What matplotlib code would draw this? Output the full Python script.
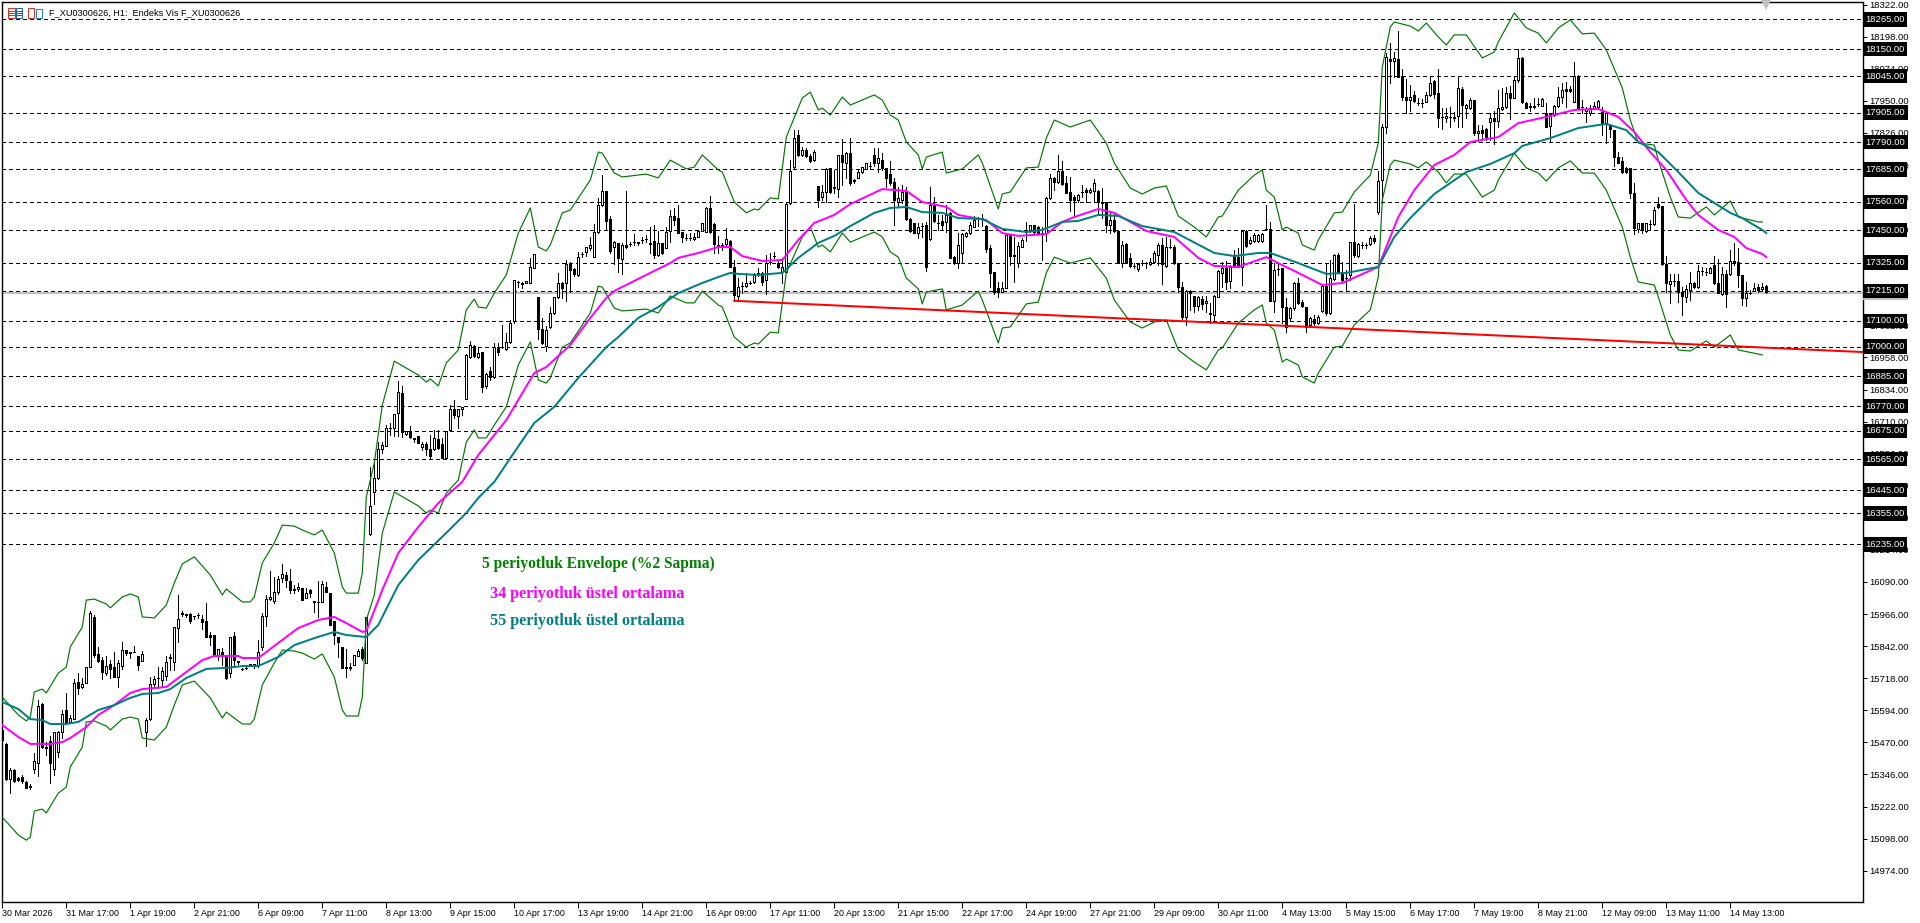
import matplotlib
matplotlib.use('Agg')
import matplotlib.pyplot as plt
from matplotlib.patches import Rectangle

# H1 candles, one row = 10 bars
opens = [
15518,15464,15328,15363,15332,15336,15317,15301,15367,15390,
15618,15452,15475,15367,15433,15510,15595,15549,15560,15703,
15684,15700,15763,15956,15812,15788,15739,15773,15761,15723,
15765,15827,15819,15819,15804,15785,15510,15560,15696,15717,
15711,15727,15798,15781,15912,15970,15966,15966,15958,15962,
15947,15939,15885,15885,15808,15819,15808,15738,15881,15785,
15754,15758,15773,15773,15769,15839,15958,16024,16017,16052,
16105,16117,16094,16063,16063,16067,16028,16059,16017,16011,
16013,16071,16047,15939,15877,15839,15761,15761,15769,15804,
15831,15777,16276,16438,16492,16604,16616,16685,16685,16743,
16821,16662,16674,16647,16654,16612,16623,16604,16604,16643,
16623,16569,16678,16759,16732,16759,16797,16960,17002,16960,
16979,16848,16906,16883,16998,16997,16991,17018,17099,17249,
17242,17246,17246,17304,17192,17068,17002,17076,17130,17192,
17246,17246,17323,17300,17277,17357,17366,17381,17346,17443,
17547,17602,17493,17385,17400,17339,17393,17396,17404,17400,
17411,17417,17400,17408,17354,17400,17381,17447,17505,17497,
17443,17419,17419,17416,17424,17447,17443,17536,17474,17393,
17385,17397,17408,17308,17196,17233,17234,17245,17250,17284,
17285,17258,17327,17352,17323,17288,17288,17555,17694,17818,
17741,17760,17737,17721,17621,17578,17598,17691,17617,17609,
17741,17710,17748,17644,17652,17675,17687,17697,17741,17710,
17721,17691,17667,17636,17559,17567,17598,17493,17478,17439,
17465,17470,17416,17547,17477,17486,17482,17517,17346,17323,
17362,17428,17439,17462,17492,17496,17466,17381,17288,17227,
17211,17227,17431,17354,17323,17385,17442,17451,17470,17462,
17439,17439,17574,17652,17636,17679,17633,17598,17578,17567,
17597,17605,17598,17602,17602,17559,17559,17470,17489,17447,
17323,17397,17343,17311,17300,17322,17324,17319,17327,17354,
17393,17312,17384,17385,17323,17230,17115,17215,17196,17157,
17184,17169,17130,17122,17192,17285,17304,17254,17354,17346,
17308,17447,17400,17408,17408,17408,17454,17455,17176,17299,
17304,17153,17111,17149,17246,17172,17153,17084,17107,17091,
17138,17234,17130,17261,17354,17288,17266,17277,17404,17350,
17392,17392,17397,17420,17520,17644,17849,18112,18104,18112,
18046,17965,17953,17973,17943,17943,17946,17973,18027,17980,
17889,17884,17889,17884,17892,17996,17922,17922,17953,17826,
17837,17841,17868,17884,17872,17919,17926,17980,17961,18031,
18116,17942,17930,17926,17937,17930,17903,17853,17895,17930,
17965,17996,17996,17946,18046,17927,17911,17903,17922,17926,
17907,17864,17857,17837,17733,17718,17691,17691,17594,17455,
17478,17447,17473,17474,17551,17544,17319,17242,17253,17254,
17211,17192,17219,17246,17230,17291,17287,17285,17315,17246,
17203,17281,17281,17331,17327,17277,17188,17207,17215,17230,
17223,17234]
highs = [
15526,15468,15371,15367,15335,15344,15320,15309,15429,15634,
15622,15471,15495,15510,15514,15595,15661,15576,15715,15738,
15719,15761,15978,15962,15839,15800,15804,15788,15819,15788,
15858,15827,15819,15842,15804,15823,15564,15723,15727,15761,
15761,15804,15812,15916,16040,15978,15966,15970,15960,15970,
15962,16009,15897,15885,15831,15835,15808,15877,15897,15785,
15756,15760,15773,15773,15866,15970,16040,16132,16109,16113,
16160,16129,16140,16078,16086,16067,16067,16063,16017,16094,
16094,16090,16047,15939,15877,15839,15831,15777,15808,15831,
15839,15955,16535,16554,16631,16631,16697,16705,16740,16867,
16848,16674,16693,16647,16654,16631,16631,16658,16678,16678,
16647,16674,16774,16794,16759,16767,16971,17022,17006,16998,
16979,16898,16921,17014,17014,17084,17053,17103,17258,17254,
17250,17254,17343,17358,17192,17111,17080,17153,17192,17285,
17250,17335,17327,17304,17366,17366,17385,17424,17474,17574,
17663,17602,17505,17408,17400,17400,17602,17404,17435,17404,
17424,17431,17462,17470,17447,17400,17462,17528,17536,17547,
17443,17435,17439,17439,17451,17478,17540,17582,17478,17428,
17400,17458,17412,17335,17265,17250,17285,17254,17285,17304,
17288,17354,17362,17366,17335,17343,17555,17721,17837,17837,
17772,17768,17745,17760,17621,17625,17691,17691,17683,17741,
17803,17752,17806,17648,17683,17694,17710,17714,17768,17768,
17748,17691,17718,17652,17617,17625,17617,17497,17478,17478,
17478,17482,17617,17578,17509,17509,17547,17520,17350,17439,
17439,17443,17482,17505,17501,17513,17470,17393,17288,17250,
17250,17439,17435,17424,17404,17420,17482,17470,17470,17466,
17462,17578,17667,17656,17741,17718,17660,17656,17586,17590,
17625,17613,17613,17648,17605,17613,17559,17520,17520,17447,
17408,17400,17362,17323,17323,17335,17327,17343,17370,17400,
17420,17424,17416,17393,17323,17250,17219,17219,17196,17196,
17196,17196,17169,17200,17296,17327,17331,17315,17373,17381,
17451,17451,17424,17439,17435,17439,17547,17482,17323,17323,
17304,17188,17153,17250,17265,17180,17153,17115,17122,17122,
17238,17323,17335,17358,17362,17327,17296,17404,17551,17400,
17404,17400,17428,17431,17679,17861,18135,18174,18139,18220,
18073,18035,18011,17988,17961,17957,17984,18042,18031,18073,
17922,17922,17926,17907,18046,18004,17938,17961,17953,17857,
17857,17845,17903,17911,17992,18000,18004,18008,18046,18151,
18120,17946,17942,17961,17961,17961,17942,17903,17934,18004,
18019,18023,18008,18100,18050,17953,17926,17934,17946,17953,
17926,17907,17861,17837,17752,17733,17694,17691,17632,17478,
17478,17478,17489,17540,17578,17544,17350,17281,17281,17281,
17230,17238,17288,17250,17315,17308,17304,17308,17350,17339,
17308,17296,17373,17400,17381,17277,17250,17219,17246,17242,
17246,17238]
lows = [
15471,15324,15274,15316,15320,15313,15294,15290,15352,15340,
15448,15421,15313,15344,15413,15487,15545,15545,15560,15657,
15680,15700,15761,15800,15781,15715,15730,15719,15723,15684,
15754,15808,15796,15819,15750,15785,15456,15556,15684,15680,
15688,15711,15750,15750,15858,15958,15955,15931,15947,15951,
15908,15877,15846,15804,15788,15769,15715,15723,15769,15773,
15750,15754,15765,15758,15761,15827,15920,16020,16009,16044,
16090,16071,16047,16047,16055,16020,16028,16032,15974,15955,
16013,16051,15924,15850,15800,15758,15723,15750,15769,15804,
15788,15777,16272,16392,16488,16589,16616,16658,16654,16654,
16651,16658,16647,16631,16627,16600,16581,16569,16600,16604,
16569,16569,16674,16724,16685,16736,16797,16956,16960,16956,
16825,16840,16871,16879,16968,16995,16987,17014,17091,17231,
17227,17246,17246,17304,17029,17010,16983,17072,17126,17188,
17188,17176,17211,17273,17273,17346,17350,17373,17346,17439,
17544,17451,17362,17319,17288,17281,17381,17389,17393,17393,
17400,17404,17362,17343,17350,17358,17381,17404,17470,17439,
17404,17412,17412,17412,17424,17447,17443,17439,17362,17362,
17373,17393,17308,17180,17180,17207,17230,17242,17246,17273,
17238,17203,17319,17343,17304,17246,17288,17551,17690,17737,
17737,17733,17714,17718,17540,17567,17559,17594,17594,17578,
17625,17652,17625,17633,17652,17671,17687,17691,17698,17675,
17683,17617,17625,17470,17540,17555,17489,17443,17439,17420,
17424,17292,17412,17482,17451,17451,17443,17343,17319,17304,
17323,17424,17435,17462,17466,17466,17366,17230,17203,17192,
17211,17227,17315,17250,17308,17385,17408,17443,17439,17435,
17335,17408,17571,17605,17633,17625,17594,17524,17501,17559,
17578,17559,17594,17559,17517,17497,17443,17439,17443,17323,
17308,17323,17308,17304,17292,17315,17304,17315,17323,17315,
17242,17308,17381,17319,17211,17107,17084,17142,17134,17142,
17145,17134,17091,17103,17192,17230,17223,17227,17308,17308,
17238,17385,17397,17404,17404,17404,17451,17176,17134,17277,
17091,17056,17103,17142,17165,17153,17056,17076,17084,17087,
17134,17122,17126,17258,17285,17250,17219,17258,17346,17346,
17381,17381,17393,17400,17513,17555,17826,18019,18042,18042,
17953,17903,17911,17946,17934,17926,17946,17969,17961,17849,
17841,17868,17849,17872,17849,17849,17884,17919,17818,17795,
17806,17799,17799,17783,17849,17915,17922,17880,17961,18023,
17942,17922,17911,17922,17930,17930,17849,17791,17892,17926,
17942,17926,17984,17946,17919,17903,17868,17895,17919,17922,
17818,17787,17810,17698,17710,17671,17671,17574,17435,17443,
17439,17443,17451,17470,17536,17315,17211,17169,17234,17172,
17122,17172,17180,17227,17227,17277,17277,17285,17242,17207,
17200,17153,17277,17315,17230,17161,17157,17203,17215,17211,
17215,17207]
closes = [
15479,15328,15363,15320,15324,15320,15294,15297,15398,15611,
15452,15448,15390,15510,15510,15580,15549,15564,15700,15680,
15696,15761,15971,15808,15785,15742,15765,15754,15723,15777,
15827,15815,15815,15821,15769,15812,15556,15696,15715,15719,
15746,15781,15800,15916,15947,15966,15962,15939,15960,15964,
15935,15877,15877,15808,15831,15804,15719,15877,15788,15781,
15752,15756,15765,15765,15819,15958,16024,16032,16052,16102,
16121,16098,16059,16059,16071,16020,16047,16047,16013,16013,
16082,16051,15924,15885,15858,15758,15759,15759,15808,15823,
15796,15955,16384,16492,16604,16620,16685,16687,16740,16825,
16670,16674,16651,16643,16627,16623,16604,16577,16647,16608,
16569,16674,16759,16736,16759,16767,16968,17006,16964,16975,
16844,16894,16883,16998,16979,16999,17018,17091,17258,17251,
17244,17254,17308,17358,17068,17014,17064,17130,17192,17246,
17227,17319,17296,17281,17346,17359,17385,17393,17443,17547,
17602,17486,17370,17404,17343,17393,17385,17398,17406,17404,
17413,17415,17396,17354,17400,17362,17443,17505,17489,17439,
17424,17421,17421,17424,17447,17478,17536,17443,17397,17385,
17393,17416,17308,17200,17230,17235,17246,17247,17277,17286,
17250,17323,17329,17350,17308,17308,17551,17679,17806,17741,
17760,17737,17718,17752,17567,17598,17687,17598,17613,17741,
17714,17748,17633,17640,17675,17694,17710,17699,17710,17729,
17691,17652,17633,17567,17575,17598,17493,17447,17439,17462,
17467,17308,17547,17486,17479,17470,17509,17343,17323,17393,
17435,17439,17470,17489,17494,17498,17377,17285,17211,17211,
17227,17431,17350,17352,17389,17412,17444,17470,17443,17439,
17441,17574,17652,17636,17679,17629,17594,17567,17567,17586,
17599,17598,17605,17633,17559,17557,17470,17489,17447,17323,
17393,17323,17312,17313,17319,17324,17322,17327,17362,17393,
17319,17385,17386,17323,17230,17115,17215,17207,17157,17192,
17165,17176,17128,17196,17292,17304,17250,17308,17308,17308,
17447,17389,17412,17431,17431,17435,17456,17176,17296,17301,
17153,17076,17149,17246,17169,17157,17076,17111,17091,17115,
17234,17130,17265,17354,17288,17258,17264,17404,17354,17397,
17394,17394,17420,17408,17640,17849,18120,18104,18116,18042,
17965,17953,17965,17950,17941,17941,17973,18019,17977,17884,
17887,17892,17887,17888,18000,17934,17934,17953,17826,17834,
17826,17810,17884,17872,17922,17926,17980,17961,18031,18116,
17946,17922,17926,17930,17939,17957,17849,17899,17930,17965,
17992,17988,17988,18046,17922,17925,17919,17922,17930,17950,
17864,17903,17841,17733,17710,17675,17675,17594,17458,17478,
17451,17478,17475,17528,17540,17319,17246,17254,17255,17211,
17196,17223,17246,17230,17292,17293,17289,17304,17246,17207,
17281,17203,17331,17323,17277,17188,17207,17209,17227,17219,
17230,17211]

ema34_bars = [0,4,7,12,15,17,21,24,28,32,35,41,46,50,53,59,60,64,70,74,79,83,86,90,91,95,99,104,109,115,119,126,133,136,142,147,151,153,162,167,169,174,179,182,185,190,195,199,203,208,212,220,226,230,236,239,246,250,254,261,265,268,274,278,286,293,299,303,309,316,320,324,330,335,344,349,353,358,363,367,374,379,386,393,399,404,408,412,416,421,424,429,433,436,440,441]
ema34 = [15537,15491,15464,15464,15471,15487,15529,15576,15614,15661,15676,15684,15742,15788,15804,15804,15796,15796,15866,15912,15943,15955,15931,15897,15900,16059,16202,16303,16395,16477,16581,16716,16898,16921,17006,17111,17188,17215,17285,17323,17343,17362,17385,17385,17350,17331,17335,17412,17478,17509,17551,17609,17602,17559,17540,17509,17489,17439,17428,17435,17482,17501,17532,17517,17447,17424,17343,17312,17308,17346,17315,17285,17238,17246,17308,17501,17605,17702,17741,17791,17810,17864,17888,17915,17919,17888,17830,17752,17683,17567,17509,17451,17424,17381,17358,17346]
ema55_bars = [0,4,7,10,12,16,19,24,28,32,35,39,42,46,51,56,60,64,69,73,78,83,86,91,94,99,104,112,116,119,123,127,133,138,144,151,154,159,164,169,175,179,182,184,189,195,199,204,208,212,218,222,226,230,235,239,245,250,256,260,265,269,274,279,285,293,303,308,314,317,324,331,336,344,348,352,358,366,372,378,380,387,394,401,406,409,414,419,424,432,435,440,441]
ema55 = [15626,15599,15560,15556,15541,15541,15549,15595,15614,15642,15657,15661,15676,15719,15754,15758,15765,15765,15800,15846,15873,15897,15885,15877,15924,16078,16175,16295,16357,16415,16477,16569,16705,16767,16879,16998,17037,17111,17153,17207,17246,17269,17285,17281,17277,17285,17343,17401,17428,17466,17517,17536,17540,17520,17517,17497,17493,17455,17443,17451,17482,17486,17509,17505,17466,17443,17362,17350,17362,17362,17323,17281,17285,17308,17424,17497,17590,17675,17706,17748,17776,17806,17845,17861,17837,17791,17752,17675,17594,17517,17497,17451,17439]

env_bars = [
0,4,6,7,8,10,11,14,16,17,
20,21,23,26,27,30,32,34,35,38,
41,43,45,48,52,55,56,60,62,63,
65,68,70,73,75,78,80,83,85,86,
89,90,91,93,95,98,104,106,107,109,
111,114,116,118,119,121,123,126,129,132,
134,136,137,140,142,147,149,150,153,155,
161,164,167,171,173,175,179,180,183,186,
188,189,192,194,196,200,202,204,205,207,
210,212,218,220,222,224,226,229,230,231,
235,236,240,244,245,249,250,252,256,259,
261,263,267,272,276,278,282,285,288,291,
294,298,301,304,305,309,313,315,316,318,
320,321,324,325,328,329,333,335,338,342,
344,345,347,348,352,354,356,359,361,363,
366,370,373,374,378,381,384,386,389,392,
395,398,401,405,407,409,413,414,417,419,
422,426,428,432,434,439,440]
env_upper = [
15645,15576,15553,15568,15665,15676,15661,15738,15761,15839,
15916,16020,16024,16005,15990,16032,16044,16032,15955,15951,
16001,16086,16160,16187,16117,16040,16063,16013,16013,16032,
16164,16241,16310,16306,16291,16272,16291,16202,16071,16047,
16047,16125,16419,16550,16774,16944,16890,16863,16875,16848,
16937,16987,17142,17184,17153,17149,17207,17277,17439,17536,
17385,17370,17393,17517,17528,17644,17752,17748,17671,17656,
17667,17652,17721,17687,17694,17741,17683,17675,17559,17517,
17532,17528,17575,17571,17810,17961,17984,17915,17922,17895,
17965,17934,17973,17953,17895,17876,17791,17741,17687,17733,
17752,17671,17687,17741,17710,17532,17590,17598,17691,17694,
17806,17876,17849,17876,17787,17710,17613,17590,17613,17621,
17505,17462,17424,17501,17505,17605,17663,17683,17605,17578,
17451,17462,17439,17393,17373,17412,17517,17520,17598,17663,
17787,18081,18236,18255,18239,18220,18251,18197,18166,18205,
18205,18116,18139,18178,18290,18232,18212,18174,18232,18263,
18209,18212,18147,18000,17876,17787,17779,17721,17578,17501,
17497,17540,17509,17563,17501,17482,17482]
env_lower = [
15181,15112,15092,15104,15205,15212,15197,15274,15297,15375,
15452,15549,15553,15533,15518,15560,15568,15560,15487,15479,
15529,15614,15692,15707,15642,15564,15587,15541,15541,15560,
15692,15777,15827,15823,15815,15792,15812,15723,15595,15572,
15572,15645,15943,16040,16279,16438,16384,16357,16368,16357,
16434,16484,16631,16678,16647,16647,16697,16767,16929,17018,
16871,16859,16879,16998,17014,17130,17234,17230,17149,17138,
17145,17130,17196,17169,17169,17215,17161,17153,17037,16998,
17014,17010,17056,17053,17285,17424,17462,17385,17393,17366,
17439,17404,17443,17424,17366,17346,17265,17223,17165,17211,
17223,17142,17161,17215,17180,17014,17072,17076,17165,17172,
17285,17346,17323,17343,17265,17180,17095,17072,17095,17103,
16987,16940,16910,16987,16995,17091,17142,17161,17091,17064,
16940,16952,16929,16883,16859,16898,16998,17002,17084,17142,
17269,17567,17702,17721,17706,17691,17714,17675,17633,17667,
17667,17578,17605,17644,17748,17691,17671,17640,17691,17718,
17671,17671,17605,17462,17346,17250,17238,17192,17045,16987,
16983,17022,16998,17045,16987,16971,16968]

trend_bars = [183, 465.05]
trend_prices = [17177, 16979]

level_prices = [18265,18150,18045,17905,17790,17685,17560,17450,17325,17215,17100,17000,16885,16770,16675,16565,16445,16355,16235]
bid_price = 17206

y_ticks = [18322,18198,18074,17950,17826,17702,17578,17454,17330,17206,17082,16958,16834,16710,16586,16462,16338,16214,16090,15966,15842,15718,15594,15470,15346,15222,15098,14974]
x_ticks = [0,16,32,48,64,80,96,112,128,144,160,176,192,208,224,240,256,272,288,304,320,336,352,368,384,400,416,432]
x_labels = ['30 Mar 2026','31 Mar 17:00','1 Apr 19:00','2 Apr 21:00','6 Apr 09:00','7 Apr 11:00','8 Apr 13:00','9 Apr 15:00','10 Apr 17:00','13 Apr 19:00','14 Apr 21:00','16 Apr 09:00','17 Apr 11:00','20 Apr 13:00','21 Apr 15:00','22 Apr 17:00','24 Apr 19:00','27 Apr 21:00','29 Apr 09:00','30 Apr 11:00','4 May 13:00','5 May 15:00','6 May 17:00','7 May 19:00','8 May 21:00','12 May 09:00','13 May 11:00','14 May 13:00']

W = 1920
H = 923
plt.rcParams['font.family'] = ['Liberation Sans', 'DejaVu Sans']
small = 6.4
price_size = 6.8
px = 0.72

fig = plt.figure(figsize=(W / 100, H / 100), dpi=100, facecolor='white')
ax = fig.add_axes([2 / W, 1 - 902.3 / H, 1860.5 / W, 900 / H])
ax.set_xlim(-0.075, 465.05)
ax.set_ylim(14851.7, 18331.1)

ax.axhline(bid_price, color='#c0c0c0', lw=2 * px, zorder=1)
for p in level_prices:
    ax.axhline(p, color='black', lw=px, ls=(0, (3, 3)), zorder=1, antialiased=False)

bars = list(range(len(opens)))
ax.vlines(bars, lows, highs, color='black', lw=px, zorder=2, antialiased=False)
body_bottom = [min(o, c) for o, c in zip(opens, closes)]
body_height = [abs(c - o) for o, c in zip(opens, closes)]
body_color = ['white' if c > o else 'black' for o, c in zip(opens, closes)]
ax.bar(bars, body_height, bottom=body_bottom, width=0.5, color=body_color,
       edgecolor='black', linewidth=px, zorder=3, antialiased=False)

ax.plot(env_bars, env_upper, color='#007800', lw=0.85, zorder=4)
ax.plot(env_bars, env_lower, color='#007800', lw=0.85, zorder=4)
ax.plot(ema34_bars, ema34, color='#ff00ff', lw=2 * px, zorder=5)
ax.plot(ema55_bars, ema55, color='#008080', lw=2 * px, zorder=5)
ax.plot(trend_bars, trend_prices, color='#ff0000', lw=2 * px, zorder=6)

# shift marker at the top of the chart
ax.plot([441], [0.9975], marker='v', ms=7, color='#c0c0c0', mew=0,
        transform=ax.get_xaxis_transform(), clip_on=False, zorder=7)

for s in ax.spines.values():
    s.set_linewidth(px * 1.4)
    s.set_color('black')

ax.yaxis.tick_right()
ax.set_yticks(y_ticks)
ax.set_yticklabels(['%.2f' % v for v in y_ticks])
ax.tick_params(axis='y', length=3, width=px, pad=2, labelsize=price_size)
ax.set_xticks(x_ticks)
ax.set_xticklabels(x_labels)
ax.tick_params(axis='x', length=4, width=px, pad=0.5, labelsize=small)
for lab in ax.get_xticklabels():
    lab.set_ha('left')

# price labels of the horizontal levels, over the axis numbers
yt = ax.get_yaxis_transform()
ax.text(1.0015, bid_price, '%.2f' % bid_price, transform=yt, color='#c0c0c0', fontsize=price_size, va='center', ha='left',
        bbox=dict(boxstyle='square,pad=0.28', fc='#c0c0c0', ec='none'), clip_on=False, zorder=8)
for p in level_prices:
    ax.text(1.0015, p, '%.2f' % p, transform=yt, color='white', fontsize=price_size, va='center', ha='left',
            bbox=dict(boxstyle='square,pad=0.28', fc='black', ec='none'), clip_on=False, zorder=9)

# annotations typed on the chart
fig.text(482 / W, 1 - 564.5 / H, '5 periyotluk Envelope (%2 Sapma)', color='#008000', fontsize=11.2,
         family='Liberation Serif', weight='bold', va='center')
fig.text(490 / W, 1 - 593.5 / H, '34 periyotluk üstel ortalama', color='#ff00ff', fontsize=11.6,
         family='Liberation Serif', weight='bold', va='center')
fig.text(490 / W, 1 - 621 / H, '55 periyotluk üstel ortalama', color='#008080', fontsize=11.6,
         family='Liberation Serif', weight='bold', va='center')

# chart title and the two little icons
fig.text(49 / W, 1 - 13 / H, 'F_XU0300626, H1:  Endeks Vis F_XU0300626', color='black', fontsize=6.6, va='center')
icon_boxes = [(8, 8, 7, 10, '#e03020'), (16, 8, 6, 10, '#2060c0'), (28, 8, 6, 10, '#e03020'), (36, 9, 6, 9, '#2080d0')]
for x0, y0, w0, h0, col in icon_boxes:
    fig.add_artist(Rectangle((x0 / W, 1 - (y0 + h0) / H), w0 / W, h0 / H, transform=fig.transFigure,
                             fc='white', ec=col, lw=px))
for x0, x1, col in [(9, 14, '#e03020'), (17, 21, '#2060c0')]:
    for y0 in (11, 13, 15):
        fig.add_artist(plt.Line2D([x0 / W, x1 / W], [1 - y0 / H, 1 - y0 / H], transform=fig.transFigure, color=col, lw=px))

fig.savefig('out.png', dpi=100, facecolor='white')
